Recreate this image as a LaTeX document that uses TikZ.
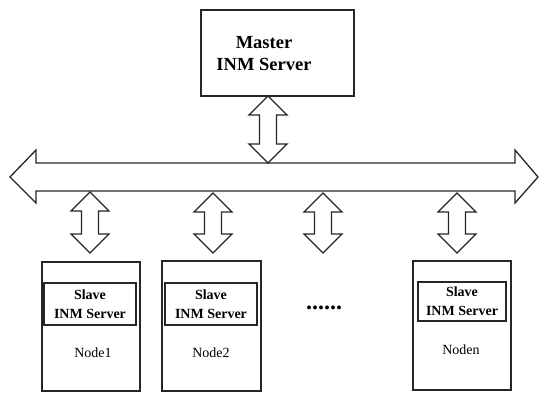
\documentclass[tikz,border=0pt]{standalone}
\usepackage{fontspec}
\setmainfont{Liberation Serif}
\usetikzlibrary{calc}
\newcommand\vdarrow[2]{\draw[darr] let \p1=(#1), \p2=(#2) in
  (\x1,\y1) -- (\x1+19pt,\y1-19pt) -- (\x1+8.5pt,\y1-19pt) -- (\x1+8.5pt,\y2+19pt)
  -- (\x1+19pt,\y2+19pt) -- (\x1,\y2) -- (\x1-19pt,\y2+19pt) -- (\x1-8.5pt,\y2+19pt)
  -- (\x1-8.5pt,\y1-19pt) -- (\x1-19pt,\y1-19pt) -- cycle;}
\begin{document}
\begin{tikzpicture}[x=1pt,y=-1pt,
  box/.style={draw=black!85, line width=1.4pt, inner sep=0pt},
  inbox/.style={draw=black!85, line width=1.2pt, inner sep=0pt, minimum height=42pt},
  darr/.style={draw=black!85, line width=1.3pt, line join=miter, fill=white},
  mtext/.style={font=\fontsize{18.5}{22}\selectfont\bfseries, align=center, inner sep=0pt},
  stext/.style={font=\fontsize{14}{19}\selectfont\bfseries, align=center, inner sep=0pt},
  ntext/.style={font=\fontsize{14}{16}\selectfont, inner sep=0pt}
]
\useasboundingbox (0,0) rectangle (540,393);

% master
\node[box, line width=1.6pt, minimum width=153pt, minimum height=86pt] (master) at (277.5,53) {};
\node[mtext] (mastertext) at (264,54) {Master\\INM Server};

% bus
\coordinate (busL) at (10,177);
\coordinate (busR) at (538,177);
\draw[darr] (busL) -- (36,150) -- (36,163) -- (515,163) -- (515,150) -- (busR)
  -- (515,203) -- (515,191) -- (36,191) -- (36,203) -- cycle;

% nodes
\node[box, minimum width=98pt, minimum height=129pt] (n1) at (91,326.5) {};
\node[box, minimum width=99pt, minimum height=130pt] (n2) at (211.5,326) {};
\node[box, minimum width=98pt, minimum height=129pt] (nn) at (462,325.5) {};

\node[inbox, minimum width=92pt] (s1) at (90,304) {};
\node[inbox, minimum width=92pt] (s2) at (211,304) {};
\node[inbox, minimum width=88pt, minimum height=39pt] (sn) at (462,301.5) {};

\node[stext] (s1t) at (s1) {Slave\\INM Server};
\node[stext] (s2t) at (s2) {Slave\\INM Server};
\node[stext] (snt) at (sn) {Slave\\INM Server};

\node[ntext] (n1t) at (93,353) {Node1};
\node[ntext] (n2t) at (211,353) {Node2};
\node[ntext] (nnt) at (461,350) {Noden};

\node[font=\fontsize{24}{24}\selectfont\bfseries, inner sep=0pt] (dots) at (324,308) {......};

% connectors
\coordinate (mt) at (268,96);
\coordinate (mb) at (268,163);
\vdarrow{mt}{mb}

\coordinate (a1) at (90,192);   \coordinate (b1) at (90,253);
\coordinate (a2) at (213,193);  \coordinate (b2) at (213,253);
\coordinate (a3) at (323,193);  \coordinate (b3) at (323,253);
\coordinate (a4) at (457,193);  \coordinate (b4) at (457,253);
\vdarrow{a1}{b1}
\vdarrow{a2}{b2}
\vdarrow{a3}{b3}
\vdarrow{a4}{b4}
\end{tikzpicture}
\end{document}
